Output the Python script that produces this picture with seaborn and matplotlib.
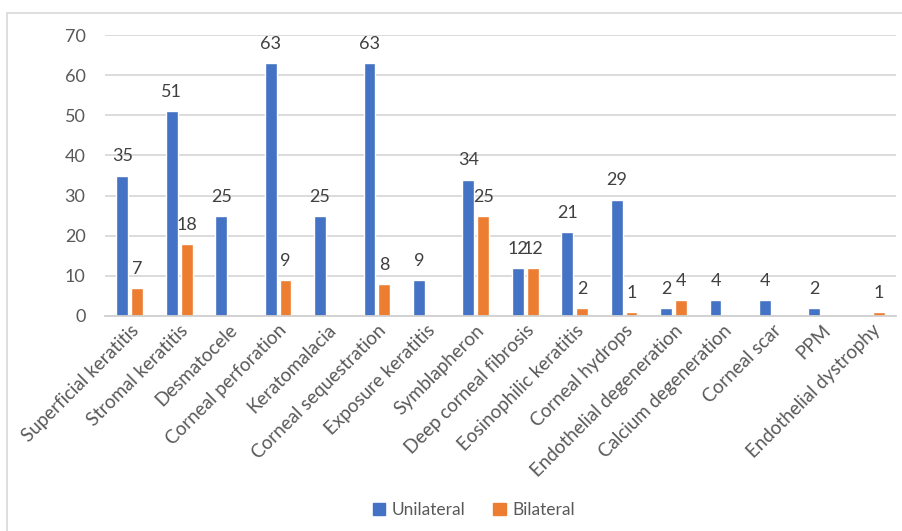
import matplotlib
matplotlib.use("Agg")
import matplotlib.pyplot as plt
from matplotlib.lines import Line2D
import seaborn as sns
import pandas as pd

categories = [
    "Superficial keratitis", "Stromal keratitis", "Desmatocele",
    "Corneal perforation", "Keratomalacia", "Corneal sequestration",
    "Exposure keratitis", "Symblapheron", "Deep corneal fibrosis",
    "Eosinophilic keratitis", "Corneal hydrops", "Endothelial degeneration",
    "Calcium degeneration", "Corneal scar", "PPM", "Endothelial dystrophy",
]
unilateral = [35, 51, 25, 63, 25, 63, 9, 34, 12, 21, 29, 2, 4, 4, 2, 0]
bilateral = [7, 18, 0, 9, 0, 8, 0, 25, 12, 2, 1, 4, 0, 0, 0, 1]
series_names = ["Unilateral", "Bilateral"]
y_ticks = [0, 10, 20, 30, 40, 50, 60, 70]

df = pd.DataFrame({
    "Lesion": categories * 2,
    "Count": unilateral + bilateral,
    "Side": [series_names[0]] * len(categories) + [series_names[1]] * len(categories),
})

sns.set_theme(style="white")
plt.rcParams["font.family"] = ["Lato", "DejaVu Sans"]

fig = plt.figure(figsize=(9.03, 5.31), dpi=100)
ax = fig.add_axes([105 / 903, 1 - 316 / 531, (896 - 105) / 903, (316 - 35) / 531])

palette = {"Unilateral": "#4472C4", "Bilateral": "#ED7D31"}
sns.barplot(data=df, x="Lesion", y="Count", hue="Side", palette=palette,
            order=categories, hue_order=series_names, width=0.6, gap=0.2,
            ax=ax, legend=False, saturation=1)

ax.set_ylim(0, 70)
ax.set_yticks(y_ticks)
ax.yaxis.grid(True, color="#D9D9D9", linewidth=1.3)
ax.set_axisbelow(True)
for side in ["top", "right", "left"]:
    ax.spines[side].set_visible(False)
ax.spines["bottom"].set_color("#D0D0D0")
ax.spines["bottom"].set_linewidth(1.3)
ax.set_xlabel("")
ax.set_ylabel("")
ax.tick_params(axis="both", length=0)
ax.tick_params(axis="y", colors="#595959", labelsize=13, pad=14)
ax.tick_params(axis="x", colors="#595959", labelsize=13.5, pad=4)
for lab in ax.get_xticklabels():
    lab.set_rotation(45)
    lab.set_ha("right")
    lab.set_rotation_mode("anchor")

for container, values in zip(ax.containers, [unilateral, bilateral]):
    labels = [str(v) if v > 0 else "" for v in values]
    ax.bar_label(container, labels=labels, padding=8, fontsize=13, color="#404040")

handles = [plt.Rectangle((0, 0), 1, 1, color=palette[s]) for s in series_names]
fig.legend(handles, series_names, loc="center", bbox_to_anchor=(474 / 903, 1 - 510 / 531),
           ncol=2, frameon=False, fontsize=12.5, handlelength=0.7, handleheight=0.7,
           columnspacing=1.6, handletextpad=0.4, labelcolor="#595959")

# Chart-area border
border = "#D9D9D9"
fig.add_artist(Line2D([7 / 903, 1], [1 - 13 / 531, 1 - 13 / 531], color=border, lw=1.2,
                      transform=fig.transFigure))
fig.add_artist(Line2D([7 / 903, 7 / 903], [0, 1 - 13 / 531], color=border, lw=1.2,
                      transform=fig.transFigure))

fig.savefig("out.png", dpi=100)
